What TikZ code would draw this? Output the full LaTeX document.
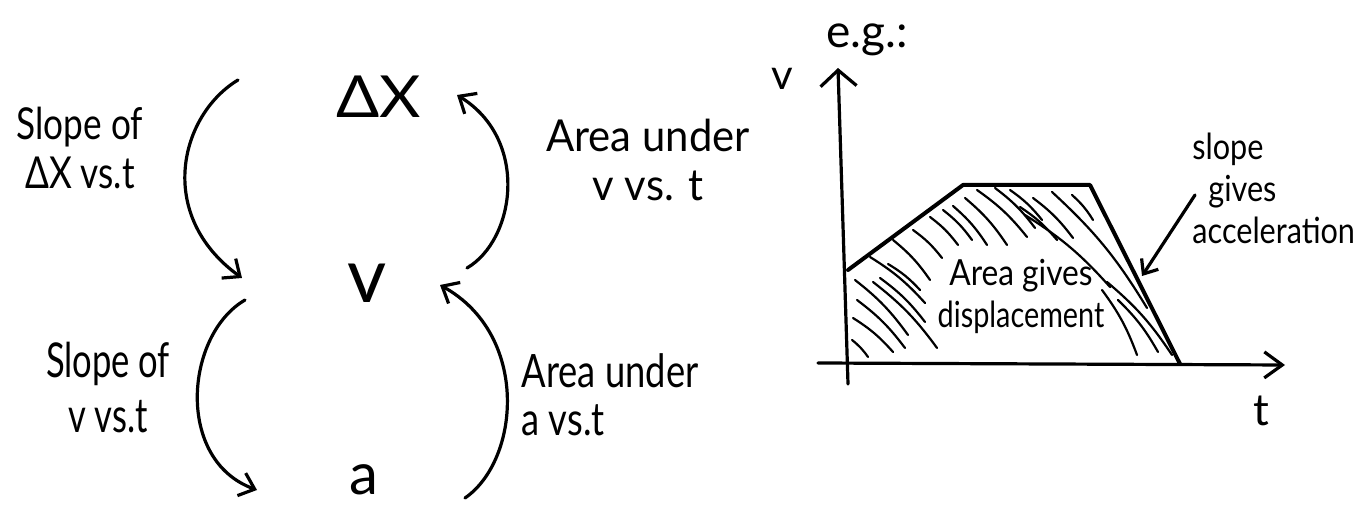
\documentclass[tikz,border=0pt]{standalone}
\usepackage{fontspec}
\usepackage{graphicx}
\setmainfont{Lato}
\usetikzlibrary{arrows.meta}
\newcommand\nar[2]{\scalebox{#1}[1]{#2}}
\begin{document}
\begin{tikzpicture}[x=0.5pt,y=-0.5pt,
  pen/.style={line width=1.6pt,line cap=round,line join=round},
  hatch/.style={line width=1.1pt,line cap=round},
  barb/.style={-{Straight Barb[length=7pt,width=12pt,line width=1.6pt]}},
  qty/.style={inner sep=0pt,font=\fontsize{#1}{#1}\selectfont},
  lbl/.style={align=center,inner sep=0pt,font=\fontsize{#1}{24.5}\selectfont}]
\useasboundingbox (0,0) rectangle (1368,506);

% ---------------- left diagram ----------------
\node[qty=29] (dx) at (379,97) {\nar{1.1}{ΔX}};
\node[qty=38] (v) at (367,283) {v};
\node[qty=29] (a) at (364,480) {a};

\node[lbl=22] (l1) at (80,148) {\nar{0.8}{Slope of}\\\nar{0.8}{ΔX vs.t}};
\node[lbl=22] (l2) at (648,160) {\nar{0.95}{Area under}\\\nar{0.95}{v vs. t}};
\node[lbl=24, font=\fontsize{24}{27.5}\selectfont] (l3) at (108,388) {\nar{0.72}{Slope of}\\\nar{0.72}{v vs.t}};
\node[lbl=23, font=\fontsize{23}{24}\selectfont, align=left] (l4) at (610,395) {\nar{0.79}{Area under}\\\nar{0.79}{a vs.t}};

\coordinate (c1s) at (238,80);  \coordinate (c1e) at (242,278);
\coordinate (c2s) at (467,268); \coordinate (c2e) at (457,95);
\coordinate (c3s) at (245,300); \coordinate (c3e) at (257,490);
\coordinate (c4s) at (465,498); \coordinate (c4e) at (440,285);

\draw[pen,barb] (c1s) .. controls (180,115) and (155,215) .. (c1e);
\draw[pen,barb] (c2s) .. controls (515,240) and (530,140) .. (c2e);
\draw[pen,barb] (c3s) .. controls (185,335) and (175,460) .. (c3e);
\draw[pen,barb] (c4s) .. controls (520,460) and (530,335) .. (c4e);

% ---------------- right graph ----------------
\coordinate (o) at (848,384);
\coordinate (vtop) at (838,68);
\coordinate (tl) at (818,363);
\coordinate (tr) at (1285,365);
\coordinate (p0) at (848,270);
\coordinate (p1) at (963,185);
\coordinate (p2) at (1090,185);
\coordinate (p3) at (1180,364);

% hatching
\foreach \ax/\ay/\bx/\by in {
  870/257/925/303, 888/264/920/290, 893/240/930/280, 913/230/942/258,
  930/217/958/245, 943/210/972/240, 953/206/987/245, 965/198/1007/245,
  977/190/1027/237, 995/188/1035/228, 1010/190/1042/220, 1020/207/1057/240,
  1033/198/1073/238, 1072/195/1093/220, 1052/192/1147/308, 1025/215/1110/287,
  1102/290/1137/355, 1107/282/1172/355, 1118/300/1158/352,
  855/280/908/335, 857/300/905/348, 873/282/937/348, 853/318/893/352,
  852/340/868/357, 880/278/925/322}
  \draw[hatch] (\ax,\ay) to[bend left=8] (\bx,\by);

\draw[pen,-{Straight Barb[length=8pt,width=18pt,line width=1.6pt]}] (o) -- (vtop);
\draw[pen,-{Straight Barb[length=9pt,width=13pt,line width=1.6pt]}] (tl) -- (tr);
\draw[pen,line width=2pt] (p0) -- (p1) -- (p2) -- (p3);

\node[qty=21] (vl) at (782,79) {v};
\node[qty=22] (tlab) at (1261,411) {t};
\node[qty=23] (eg) at (867,40) {e.g.:};

\node[lbl=18, font=\fontsize{18}{21}\selectfont] (area) at (1021,296) {\nar{0.88}{Area gives}\\\nar{0.8}{displacement}};
\node[lbl=18, font=\fontsize{18}{21}\selectfont, align=left, anchor=west] (slope) at (1192,188) {\nar{0.85}{slope}\\\hspace{8pt}\nar{0.85}{gives}\\\nar{0.85}{acceleration}};

\coordinate (sa) at (1195,195);
\coordinate (sb) at (1142,276);
\draw[pen,-{Straight Barb[length=6pt,width=10pt,line width=1.6pt]}] (sa) -- (sb);
\end{tikzpicture}
\end{document}
